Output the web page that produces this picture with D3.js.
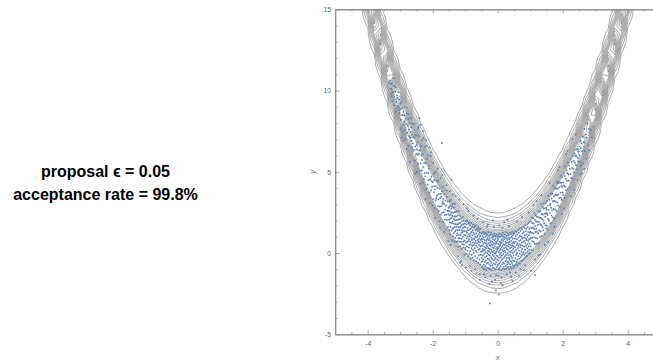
<!DOCTYPE html>
<html>
<head>
<meta charset="utf-8">
<script src="https://cdn.jsdelivr.net/npm/d3@7"></script>
<style>
  body { margin: 0; background: #fff; }
  svg { display: block; }
  .caption { font-family: "Liberation Sans", Arial, sans-serif; font-weight: bold; font-size: 16px; fill: #000; }
  .tick text { font-family: "Liberation Sans", Arial, sans-serif; font-size: 7px; fill: #666; }
  .axis-label { font-family: "Liberation Sans", Arial, sans-serif; font-size: 8px; font-style: italic; fill: #777; }
</style>
</head>
<body>
<svg id="chart" width="653" height="362"></svg>
<script>
// ---- text ----
const captionLines = ["proposal \u03F5 = 0.05", "acceptance rate = 99.8%"];

// ---- axes ----
const xDomain = [-5, 5];
const yDomain = [-5, 15];
const xMajorTicks = [-4, -2, 0, 2, 4];
const xMinorTicks = [-4.5, -3.5, -3, -2.5, -1.5, -1, -0.5, 0.5, 1, 1.5, 2.5, 3, 3.5, 4.5];
const yMajorTicks = [-5, 0, 5, 10, 15];
const yMinorTicks = [-4, -3, -2, -1, 1, 2, 3, 4, 6, 7, 8, 9, 11, 12, 13, 14];

// ---- target density: p(x, y) ~ exp(-(x^2 / varX + (y - x^2)^2) / 2) ----
const targetVarX = 10;
const contourLevels = [0.05, 0.1, 0.15, 0.2, 0.25, 0.3, 0.35, 0.4, 0.45, 0.5, 0.55, 0.6];
// sampling grid for the contour plot
const gridX = [-5.4, 5.4];
const gridY = [-5.5, 16.0];
const gridStep = [0.2, 0.5];

// ---- Metropolis chain samples (x, y) ----
const samples = [
[-3.31,10.62],[-3.28,10.1],[-3.25,10.45],[-3.22,9.9],[-3.2,10.3],[-3.18,9.6],[-3.27,9.8],[-3.15,9.95],[-3.12,9.3],[-3.1,9.7],
[-3.08,9.05],[-3.05,9.45],[-3.03,8.8],[-3.0,9.2],[-3.14,10.2],[-3.19,9.1],[-3.24,9.35],[-3.29,10.4],[-3.11,8.9],[-3.06,9.9],
[-3.02,8.6],[-3.21,10.75],[-3.16,9.45],[-3.09,9.55],[-3.35,10.5],[-3.04,8.95],[-3.13,8.7],[-3.26,9.65],
[-2.98,8.2],[-2.95,8.9],[-2.93,8.5],[-2.91,7.9],[-2.9,8.7],[-2.88,8.1],[-2.86,8.45],[-2.85,7.6],[-2.83,8.3],[-2.81,7.95],
[-2.8,8.6],[-2.78,7.4],[-2.77,7.85],[-2.75,8.25],[-2.73,7.2],[-2.72,7.6],[-2.7,8.0],[-2.69,7.1],[-2.68,7.45],[-2.66,7.75],
[-2.65,6.9],[-2.64,7.3],[-2.62,7.95],[-2.61,6.75],[-2.6,7.15],[-2.97,9.3],[-2.92,7.5],[-2.87,9.0],[-2.79,8.95],[-2.74,6.6],
[-2.67,8.3],[-2.63,6.5],[-2.96,7.7],[-2.84,7.0],[-2.76,8.55],
[-2.9,6.9],[-2.8,6.4],[-3.0,7.6],[-2.7,5.6],[-2.95,7.1],
[-2.41,8.3],[-2.37,7.9],[-2.45,7.7],[-2.3,7.5],[-2.33,6.95],[-2.2,6.95],[-2.18,6.6],[-2.1,6.5],[-2.05,6.2],[-1.72,6.77],
[-2.58,6.36],[-2.57,7.1],[-2.55,5.7],[-2.54,6.55],[-2.52,7.25],[-2.51,6.1],[-2.5,6.65],[-2.49,5.0],[-2.47,6.8],[-2.46,6.05],
[-2.45,5.5],[-2.43,7.2],[-2.42,6.11],[-2.4,5.06],[-2.39,6.31],[-2.37,5.52],[-2.36,6.57],[-2.34,5.08],[-2.33,5.73],[-2.31,4.34],
[-2.3,6.09],[-2.29,5.29],[-2.27,4.55],[-2.26,5.56],[-2.24,6.52],[-2.23,4.72],[-2.21,5.53],[-2.2,3.94],[-2.19,4.95],[-2.17,5.81],
[-2.16,4.22],[-2.14,4.93],[-2.13,4.49],[-2.11,5.35],[-2.1,3.71],[-2.08,4.53],[-2.07,5.98],[-2.05,3.85],[-2.04,4.71],[-2.02,4.08],
[-2.01,2.94],[-2.56,7.95],[-2.53,4.9],[-2.44,7.75],[-2.38,4.26],[-2.28,7.1],[-2.22,3.33],[-2.15,6.02],[-2.09,3.07],[-2.48,6.35],
[-2.35,6.02],[-2.25,4.91],[-2.12,5.19],[-2.03,4.42],
[-1.99,4.36],[-1.98,3.32],[-1.97,4.88],[-1.96,3.74],[-1.95,4.5],[-1.94,2.76],[-1.93,3.92],[-1.92,4.99],[-1.91,3.25],[-1.9,4.11],
[-1.89,3.37],[-1.88,4.43],[-1.87,2.7],[-1.86,3.56],[-1.85,4.02],[-1.84,2.89],[-1.83,4.45],[-1.82,3.31],[-1.81,3.63],[-1.8,1.94],
[-1.79,3.95],[-1.78,2.87],[-1.77,3.38],[-1.76,4.6],[-1.75,2.36],[-1.74,3.48],[-1.73,2.89],[-1.72,3.81],[-1.71,2.47],[-1.7,3.04],
[-1.69,4.06],[-1.68,1.92],[-1.67,3.34],[-1.66,2.51],[-1.65,3.02],[-1.64,3.64],[-1.63,2.06],[-1.62,2.67],[-1.61,3.24],[-1.6,1.46],
[-1.59,2.93],[-1.58,2.35],[-1.57,3.86],[-1.56,2.03],[-1.55,2.6],[-1.54,3.17],[-1.53,1.59],[-1.52,2.41],[-1.51,2.78],[-1.5,2.05],
[-1.985,5.54],[-1.915,2.17],[-1.845,5.2],[-1.775,1.55],[-1.705,4.81],[-1.645,1.31],[-1.575,4.18],[-1.525,0.73],[-1.955,4.12],[-1.875,3.52],
[-1.815,2.59],[-1.745,3.65],[-1.685,3.14],[-1.625,2.34],[-1.565,3.45],[-1.515,2.6],[-1.42,4.5],
[-1.495,2.84],[-1.49,1.42],[-1.485,2.31],[-1.48,3.19],[-1.475,1.88],[-1.47,2.56],[-1.465,1.15],[-1.46,2.93],[-1.455,2.12],[-1.45,1.6],
[-1.445,2.39],[-1.44,3.27],[-1.435,1.86],[-1.43,2.74],[-1.425,1.38],[-1.42,2.17],[-1.415,2.5],[-1.41,0.79],[-1.405,2.87],[-1.4,1.86],
[-1.395,2.3],[-1.39,1.48],[-1.385,3.02],[-1.38,1.95],[-1.375,1.04],[-1.37,2.48],[-1.365,1.56],[-1.36,2.1],[-1.355,2.79],[-1.35,1.22],
[-1.345,1.81],[-1.34,2.25],[-1.335,0.73],[-1.33,2.52],[-1.325,1.61],[-1.32,2.04],[-1.315,3.03],[-1.31,1.32],[-1.305,2.25],[-1.3,0.94],
[-1.295,1.78],[-1.29,2.51],[-1.285,1.4],[-1.28,2.04],[-1.275,0.68],[-1.27,2.26],[-1.265,1.6],[-1.26,1.09],[-1.255,2.58],[-1.25,1.76],
[-1.245,1.2],[-1.24,2.04],[-1.235,0.73],[-1.23,2.31],[-1.225,1.4],[-1.22,1.79],[-1.215,0.38],[-1.21,2.06],[-1.205,0.9],[-1.2,1.59],
[-1.195,2.58],[-1.19,1.12],[-1.185,1.85],[-1.18,0.69],[-1.175,2.08],[-1.17,1.42],[-1.165,0.91],[-1.16,2.3],[-1.155,1.58],[-1.15,0.42],
[-1.145,1.86],[-1.14,1.1],[-1.135,1.64],[-1.13,0.68],[-1.125,2.12],[-1.12,1.25],[-1.115,0.24],[-1.11,1.73],[-1.105,0.87],[-1.1,1.41],
[-1.095,1.95],[-1.09,0.54],[-1.085,1.28],[-1.08,2.22],[-1.075,1.01],[-1.07,1.54],[-1.065,0.33],[-1.06,1.77],[-1.055,0.71],[-1.05,1.35],
[-1.045,1.99],[-1.04,0.53],[-1.035,1.12],[-1.03,1.61],[-1.025,-0.1],[-1.02,1.34],[-1.015,0.78],[-1.01,1.82],[-1.005,0.31],
[-1.47,3.8],[-1.38,3.6],[-1.3,3.5],[-1.22,-0.2],[-1.12,-0.5],[-1.45,0.5],[-1.05,3.0],[-1.18,3.3],[-1.16,-0.6],[-1.1,-0.75],
[-0.995,1.6],[-0.99,0.2],[-0.985,1.1],[-0.98,1.95],[-0.975,0.65],[-0.97,1.35],[-0.965,-0.05],[-0.96,1.75],[-0.955,0.9],[-0.95,0.4],
[-0.945,1.25],[-0.94,2.0],[-0.935,0.7],[-0.93,1.55],[-0.925,0.15],[-0.92,1.0],[-0.915,1.4],[-0.91,-0.2],[-0.905,1.8],[-0.9,0.75],
[-0.895,1.15],[-0.89,0.35],[-0.885,1.9],[-0.88,0.85],[-0.875,-0.05],[-0.87,1.45],[-0.865,0.5],[-0.86,1.05],[-0.855,1.7],[-0.85,0.1],
[-0.845,0.7],[-0.84,1.2],[-0.835,-0.35],[-0.83,1.5],[-0.825,0.55],[-0.82,0.95],[-0.815,1.85],[-0.81,0.3],[-0.805,1.3],[-0.8,-0.1],
[-0.795,0.8],[-0.79,1.6],[-0.785,0.45],[-0.78,1.1],[-0.775,-0.3],[-0.77,1.4],[-0.765,0.65],[-0.76,0.2],[-0.755,1.75],[-0.75,0.9],
[-0.745,0.0],[-0.74,1.25],[-0.735,0.5],[-0.73,1.55],[-0.725,-0.45],[-0.72,0.85],[-0.715,1.15],[-0.71,0.3],[-0.705,1.65],[-0.7,0.6],
[-0.695,-0.2],[-0.69,1.0],[-0.685,1.4],[-0.68,0.15],[-0.675,0.75],[-0.67,1.7],[-0.665,-0.5],[-0.66,0.45],[-0.655,1.2],[-0.65,0.95],
[-0.645,0.05],[-0.64,1.5],[-0.635,0.6],[-0.63,-0.3],[-0.625,1.05],[-0.62,0.35],[-0.615,1.35],[-0.61,0.8],[-0.605,-0.6],[-0.6,1.6],
[-0.595,0.2],[-0.59,0.7],[-0.585,1.15],[-0.58,-0.15],[-0.575,0.5],[-0.57,1.45],[-0.565,0.9],[-0.56,-0.4],[-0.555,0.25],[-0.55,1.25],
[-0.545,0.65],[-0.54,-0.7],[-0.535,1.05],[-0.53,0.4],[-0.525,1.5],[-0.52,-0.1],[-0.515,0.8],[-0.51,0.1],[-0.505,1.2],[-0.5,-0.55],
[-0.98,-0.9],[-0.9,2.6],[-0.85,-0.8],[-0.75,2.3],[-0.7,-1.0],[-0.62,2.1],[-0.55,-1.3],[-0.95,2.75],[-0.8,-1.1],[-0.66,-1.25],
[-0.497,0.9],[-0.493,-0.3],[-0.49,0.45],[-0.486,1.2],[-0.482,-0.85],[-0.478,0.1],[-0.474,0.7],[-0.47,-0.5],[-0.466,1.05],[-0.462,0.25],
[-0.458,-0.15],[-0.454,0.85],[-0.45,-0.95],[-0.446,0.55],[-0.442,1.3],[-0.438,-0.4],[-0.434,0.15],[-0.43,0.95],[-0.426,-0.7],[-0.422,0.4],
[-0.418,-0.05],[-0.414,1.15],[-0.41,-1.0],[-0.406,0.65],[-0.402,0.2],[-0.398,-0.55],[-0.394,0.8],[-0.39,1.25],[-0.386,-0.25],[-0.382,0.35],
[-0.378,-0.8],[-0.374,1.0],[-0.37,0.05],[-0.366,0.6],[-0.362,-0.45],[-0.358,1.2],[-0.354,-1.05],[-0.35,0.3],[-0.346,0.75],[-0.342,-0.2],
[-0.338,0.5],[-0.334,-0.65],[-0.33,1.1],[-0.326,0.0],[-0.322,0.85],[-0.318,-0.9],[-0.314,0.4],[-0.31,-0.35],[-0.306,0.95],[-0.302,0.15],
[-0.298,-0.6],[-0.294,0.6],[-0.29,1.3],[-0.286,-0.1],[-0.282,0.3],[-0.278,-0.95],[-0.274,0.8],[-0.27,-0.4],[-0.266,0.1],[-0.262,1.05],
[-0.258,-0.7],[-0.254,0.5],[-0.25,-0.15],[-0.246,0.9],[-0.242,0.25],[-0.238,-1.0],[-0.234,0.65],[-0.23,-0.5],[-0.226,1.15],[-0.222,0.0],
[-0.218,0.45],[-0.214,-0.8],[-0.21,0.75],[-0.206,-0.25],[-0.202,1.25],[-0.198,0.2],[-0.194,-0.6],[-0.19,0.55],[-0.186,-1.05],[-0.182,0.95],
[-0.178,0.1],[-0.174,-0.35],[-0.17,0.7],[-0.166,-0.75],[-0.162,0.35],[-0.158,1.1],[-0.154,-0.1],[-0.15,0.5],[-0.146,-0.9],[-0.142,0.85],
[-0.138,0.05],[-0.134,-0.45],[-0.13,1.0],[-0.126,0.3],[-0.122,-0.65],[-0.118,0.6],[-0.114,-0.2],[-0.11,1.2],[-0.106,0.15],[-0.102,-0.95],
[-0.098,0.8],[-0.094,-0.4],[-0.09,0.4],[-0.086,-0.05],[-0.082,1.05],[-0.078,-0.7],[-0.074,0.55],[-0.07,0.0],[-0.066,-0.3],[-0.062,0.9],
[-0.058,-1.0],[-0.054,0.25],[-0.05,0.7],[-0.046,-0.55],[-0.042,1.15],[-0.038,0.1],[-0.034,-0.15],[-0.03,0.6],[-0.026,-0.85],[-0.022,0.35],
[-0.018,1.0],[-0.014,-0.4],[-0.01,0.2],[-0.006,-0.7],[-0.002,0.75],
[-0.45,1.9],[-0.38,-1.5],[-0.3,1.75],[-0.22,-1.4],[-0.15,2.0],[-0.08,-1.65],[-0.42,-1.3],[-0.12,1.6],[-0.25,-1.9],[-0.05,-1.35],
[-0.33,1.6],[-0.18,-1.75],[-0.24,-3.1],[0.04,-2.55],[-0.06,-2.3],[0.15,-2.0],[-0.55,-1.65],
[0.002,-0.2],[0.006,0.85],[0.01,-0.75],[0.014,0.3],[0.018,1.1],[0.022,-0.45],[0.026,0.55],[0.03,-1.0],[0.034,0.05],[0.038,0.95],
[0.042,-0.3],[0.046,0.4],[0.05,-0.65],[0.054,1.2],[0.058,0.15],[0.062,-0.9],[0.066,0.7],[0.07,-0.1],[0.074,0.5],[0.078,-0.55],
[0.082,1.0],[0.086,0.25],[0.09,-0.8],[0.094,0.6],[0.098,-0.25],[0.102,1.15],[0.106,0.0],[0.11,-1.05],[0.114,0.8],[0.118,0.35],
[0.122,-0.45],[0.126,0.65],[0.13,-0.15],[0.134,1.05],[0.138,-0.7],[0.142,0.2],[0.146,0.9],[0.15,-0.35],[0.154,0.45],[0.158,-0.95],
[0.162,1.25],[0.166,0.1],[0.17,-0.6],[0.174,0.75],[0.178,-0.05],[0.182,0.55],[0.186,-0.85],[0.19,1.0],[0.194,0.3],[0.198,-0.3],
[0.202,0.85],[0.206,-0.65],[0.21,0.15],[0.214,1.15],[0.218,-1.0],[0.222,0.5],[0.226,-0.2],[0.23,0.95],[0.234,0.05],[0.238,-0.5],
[0.242,0.7],[0.246,-0.8],[0.25,0.35],[0.254,1.3],[0.258,-0.1],[0.262,0.6],[0.266,-0.45],[0.27,0.9],[0.274,-0.95],[0.278,0.25],
[0.282,1.05],[0.286,-0.3],[0.29,0.45],[0.294,-0.7],[0.298,0.8],[0.302,0.0],[0.306,-0.55],[0.31,1.2],[0.314,0.2],[0.318,-0.85],
[0.322,0.65],[0.326,-0.15],[0.33,0.95],[0.334,0.4],[0.338,-0.6],[0.342,1.1],[0.346,-0.3],[0.35,0.55],[0.354,-1.0],[0.358,0.85],
[0.362,0.1],[0.366,-0.4],[0.37,0.7],[0.374,1.25],[0.378,-0.7],[0.382,0.3],[0.386,-0.1],[0.39,0.95],[0.394,-0.85],[0.398,0.5],
[0.402,0.05],[0.406,1.15],[0.41,-0.5],[0.414,0.75],[0.418,-0.2],[0.422,0.35],[0.426,-0.95],[0.43,1.0],[0.434,0.15],[0.438,-0.6],
[0.442,0.6],[0.446,1.3],[0.45,-0.3],[0.454,0.45],[0.458,-0.75],[0.462,0.9],[0.466,0.0],[0.47,-0.45],[0.474,1.1],[0.478,0.25],
[0.482,-0.9],[0.486,0.7],[0.49,-0.15],[0.494,1.2],[0.498,0.4],
[0.05,1.7],[0.12,-1.5],[0.2,1.9],[0.28,-1.3],[0.35,1.65],[0.42,-1.45],[0.1,-1.85],[0.3,2.05],[0.45,-1.7],[0.02,-1.4],
[0.38,-1.2],[0.15,1.55],
[0.505,0.6],[0.51,-0.5],[0.515,1.2],[0.52,0.1],[0.525,-0.8],[0.53,0.9],[0.535,0.35],[0.54,1.35],[0.545,-0.3],[0.55,0.7],
[0.555,-0.7],[0.56,1.05],[0.565,0.2],[0.57,-0.1],[0.575,1.3],[0.58,0.5],[0.585,-0.55],[0.59,0.85],[0.595,0.0],[0.6,1.15],
[0.605,-0.4],[0.61,0.6],[0.615,-0.75],[0.62,1.4],[0.625,0.3],[0.63,-0.2],[0.635,0.95],[0.64,0.45],[0.645,-0.6],[0.65,1.25],
[0.655,0.15],[0.66,0.75],[0.665,-0.35],[0.67,1.5],[0.675,0.55],[0.68,-0.05],[0.685,1.05],[0.69,-0.65],[0.695,0.35],[0.7,1.35],
[0.705,0.8],[0.71,-0.25],[0.715,0.5],[0.72,1.55],[0.725,0.1],[0.73,-0.5],[0.735,1.0],[0.74,0.65],[0.745,-0.15],[0.75,1.45],
[0.755,0.25],[0.76,0.9],[0.765,-0.45],[0.77,1.2],[0.775,0.45],[0.78,-0.05],[0.785,1.6],[0.79,0.7],[0.795,0.05],[0.8,1.3],
[0.805,-0.35],[0.81,0.95],[0.815,0.4],[0.82,1.55],[0.825,-0.1],[0.83,0.75],[0.835,1.1],[0.84,0.2],[0.845,1.7],[0.85,-0.25],
[0.855,0.6],[0.86,1.35],[0.865,0.9],[0.87,0.0],[0.875,1.5],[0.88,0.45],[0.885,-0.2],[0.89,1.15],[0.895,0.8],[0.9,1.75],
[0.905,0.3],[0.91,-0.15],[0.915,1.0],[0.92,0.55],[0.925,1.6],[0.93,0.1],[0.935,1.3],[0.94,0.75],[0.945,-0.05],[0.95,1.85],
[0.955,0.4],[0.96,1.1],[0.965,0.85],[0.97,0.2],[0.975,1.5],[0.98,0.6],[0.985,1.95],[0.99,0.0],[0.995,1.25],[1.0,0.9],
[0.55,-1.2],[0.6,1.95],[0.7,-1.0],[0.75,2.2],[0.85,-0.75],[0.95,2.5],[0.65,-1.4],[0.8,-1.05],[1.15,-1.35],[1.02,-1.1],
[1.005,1.31],[1.01,0.42],[1.02,1.94],[1.025,0.95],[1.03,1.56],[1.04,0.18],[1.045,2.19],[1.05,1.25],[1.06,0.72],[1.065,1.83],
[1.07,0.94],[1.08,1.57],[1.085,0.18],[1.09,2.14],[1.1,1.21],[1.105,1.82],[1.11,0.68],[1.12,1.5],[1.125,2.47],[1.13,0.98],
[1.14,2.05],[1.145,0.56],[1.15,1.67],[1.16,1.3],[1.165,2.36],[1.17,0.92],[1.18,1.94],[1.185,1.5],[1.19,0.57],[1.2,2.24],
[1.21,1.31],[1.215,1.93],[1.22,0.89],[1.23,2.61],[1.24,1.74],[1.245,1.2],[1.25,2.21],[1.26,0.59],[1.27,1.91],[1.275,2.53],
[1.28,1.39],[1.29,2.16],[1.3,0.99],[1.31,1.77],[1.315,2.58],[1.32,1.34],[1.33,2.17],[1.34,3.0],[1.345,1.71],[1.35,2.42],
[1.36,1.05],[1.37,2.08],[1.375,2.84],[1.38,1.6],[1.39,2.38],[1.4,1.41],[1.41,2.74],[1.415,2.0],[1.42,3.07],[1.43,1.84],
[1.44,2.42],[1.445,1.19],[1.45,2.75],[1.46,2.23],[1.47,1.71],[1.475,3.08],[1.48,2.44],[1.49,1.52],[1.495,2.79],
[1.1,2.95],[1.25,-0.15],[1.35,3.55],[1.2,3.2],[1.45,0.5],[1.3,-0.1],[1.15,-0.4],
[1.505,2.67],[1.51,1.68],[1.52,3.21],[1.53,2.34],[1.535,1.46],[1.54,2.92],[1.55,2.1],[1.56,3.53],[1.57,2.66],[1.58,2.0],
[1.59,3.28],[1.6,2.46],[1.61,2.94],[1.62,1.82],[1.63,3.66],[1.64,2.79],[1.65,2.32],[1.66,3.36],[1.67,2.64],[1.68,3.67],
[1.69,2.21],[1.7,3.19],[1.71,4.12],[1.72,2.71],[1.73,3.49],[1.74,2.13],[1.75,3.21],[1.76,4.0],[1.77,2.68],[1.78,3.57],
[1.79,3.15],[1.8,3.94],[1.81,2.58],[1.82,3.56],[1.83,4.4],[1.84,3.09],[1.85,3.97],[1.86,2.91],[1.87,3.6],[1.88,4.33],
[1.89,3.37],[1.9,4.06],[1.91,2.85],[1.92,4.34],[1.93,3.72],[1.94,4.76],[1.95,3.4],[1.96,4.14],[1.97,3.28],[1.98,4.67],
[1.99,4.06],[1.995,3.73],[1.515,2.45],[1.625,3.04],[1.735,3.21],[1.845,4.3],[1.955,4.32],
[1.6,4.3],[1.75,1.6],[1.9,5.3],[1.7,1.2],[1.85,5.1],[1.55,0.7],[1.98,2.4],
[2.01,4.34],[2.02,3.58],[2.03,4.92],[2.04,4.16],[2.05,3.4],[2.06,4.74],[2.07,4.08],[2.08,5.33],[2.09,4.57],[2.1,3.86],
[2.12,5.09],[2.13,4.44],[2.14,4.93],[2.15,3.92],[2.16,5.57],[2.18,4.85],[2.19,4.45],[2.2,5.39],[2.21,4.03],[2.22,5.18],
[2.24,4.87],[2.25,5.81],[2.26,4.61],[2.28,5.6],[2.29,5.24],[2.3,4.59],[2.31,5.99],[2.33,5.18],[2.34,5.68],[2.35,4.97],
[2.37,6.12],[2.38,5.56],[2.39,6.01],[2.41,5.41],[2.42,5.96],[2.43,5.15],[2.44,6.4],[2.46,5.85],[2.47,6.35],[2.48,5.65],
[2.49,6.25],
[2.05,2.75],[2.15,6.3],[2.3,7.0],[2.25,3.5],[2.4,7.3],[2.45,4.5],[2.1,6.1],[2.35,3.9],
[2.51,6.0],[2.52,6.55],[2.53,5.6],[2.55,6.9],[2.56,6.45],[2.57,5.4],[2.58,6.76],[2.6,6.26],[2.62,7.16],[2.63,5.52],
[2.65,6.82],[2.67,7.63],[2.68,6.28],[2.7,7.29],[2.72,5.8],[2.74,7.11],[2.76,7.97],[2.78,6.63],[2.8,7.64],[2.83,6.31],
[2.86,7.58],[2.9,7.11],[2.59,4.91],[2.54,4.85],[2.66,5.18],[2.94,7.78]
];

// ---- layout ----
const W = 653, H = 362;
const plot = { left: 335.2, right: 660.2, top: 9.3, bottom: 334.3 };

const svg = d3.select("#chart");
const x = d3.scaleLinear().domain(xDomain).range([plot.left, plot.right]);
const y = d3.scaleLinear().domain(yDomain).range([plot.bottom, plot.top]);

svg.append("defs").append("clipPath").attr("id", "plot-clip")
  .append("rect")
  .attr("x", plot.left).attr("y", plot.top)
  .attr("width", plot.right - plot.left).attr("height", plot.bottom - plot.top);

// ---- contour plot of the target density ----
const nx = Math.round((gridX[1] - gridX[0]) / gridStep[0]) + 1;
const ny = Math.round((gridY[1] - gridY[0]) / gridStep[1]) + 1;
const grid = new Array(nx * ny);
for (let j = 0; j < ny; ++j) {
  const gy = gridY[0] + j * gridStep[1];
  for (let i = 0; i < nx; ++i) {
    const gx = gridX[0] + i * gridStep[0];
    const r = gy - gx * gx;
    grid[j * nx + i] = Math.exp(-0.5 * (gx * gx / targetVarX + r * r));
  }
}
const contours = d3.contours().size([nx, ny]).thresholds(contourLevels)(grid);
const gridToScreen = d3.geoTransform({
  point(px, py) {
    this.stream.point(
      x(gridX[0] + (px - 0.5) * gridStep[0]),
      y(gridY[0] + (py - 0.5) * gridStep[1])
    );
  }
});
const contourPath = d3.geoPath(gridToScreen);

const plotArea = svg.append("g").attr("clip-path", "url(#plot-clip)");
plotArea.append("g")
  .attr("fill", "none")
  .attr("stroke", "#3a3a3a")
  .attr("stroke-opacity", 0.55)
  .attr("stroke-width", 0.75)
  .attr("stroke-linejoin", "round")
  .selectAll("path")
  .data(contours)
  .join("path")
  .attr("d", contourPath);

// ---- chain samples ----
plotArea.append("g")
  .attr("fill", "#5E81B5")
  .selectAll("circle")
  .data(samples)
  .join("circle")
  .attr("cx", d => x(d[0]))
  .attr("cy", d => y(d[1]))
  .attr("r", 0.95);

// ---- frame and ticks ----
const frameColor = "#8a8a8a";
const fmt = d => String(d);

function styleAxis(g) {
  g.select(".domain").attr("stroke", frameColor).attr("stroke-width", 1);
  g.selectAll(".tick line").attr("stroke", frameColor).attr("stroke-width", 0.8);
}

svg.append("g").attr("transform", `translate(0,${plot.bottom})`)
  .call(d3.axisBottom(x).tickValues(xMinorTicks).tickSize(-2).tickFormat("").tickSizeOuter(0))
  .call(styleAxis);
svg.append("g").attr("transform", `translate(0,${plot.bottom})`)
  .call(d3.axisBottom(x).tickValues(xMajorTicks).tickSize(-4).tickPadding(7).tickFormat(fmt).tickSizeOuter(0))
  .call(styleAxis);
svg.append("g").attr("transform", `translate(0,${plot.top})`)
  .call(d3.axisTop(x).tickValues(xMinorTicks).tickSize(-2).tickFormat("").tickSizeOuter(0))
  .call(styleAxis);
svg.append("g").attr("transform", `translate(0,${plot.top})`)
  .call(d3.axisTop(x).tickValues(xMajorTicks).tickSize(-4).tickFormat("").tickSizeOuter(0))
  .call(styleAxis);
svg.append("g").attr("transform", `translate(${plot.left},0)`)
  .call(d3.axisLeft(y).tickValues(yMinorTicks).tickSize(-2).tickFormat("").tickSizeOuter(0))
  .call(styleAxis);
svg.append("g").attr("transform", `translate(${plot.left},0)`)
  .call(d3.axisLeft(y).tickValues(yMajorTicks).tickSize(-4).tickPadding(4).tickFormat(fmt).tickSizeOuter(0))
  .call(styleAxis);

// axis labels
svg.append("text").attr("class", "axis-label")
  .attr("x", x(0)).attr("y", 360).attr("text-anchor", "middle").text("x");
svg.append("text").attr("class", "axis-label")
  .attr("transform", `translate(315,${y(5)}) rotate(-90)`)
  .attr("text-anchor", "middle").text("y");

// ---- caption ----
svg.append("g").selectAll("text")
  .data(captionLines)
  .join("text")
  .attr("class", "caption")
  .attr("x", 105.5)
  .attr("y", (d, i) => 176.5 + i * 23.5)
  .attr("text-anchor", "middle")
  .text(d => d);
</script>
</body>
</html>
